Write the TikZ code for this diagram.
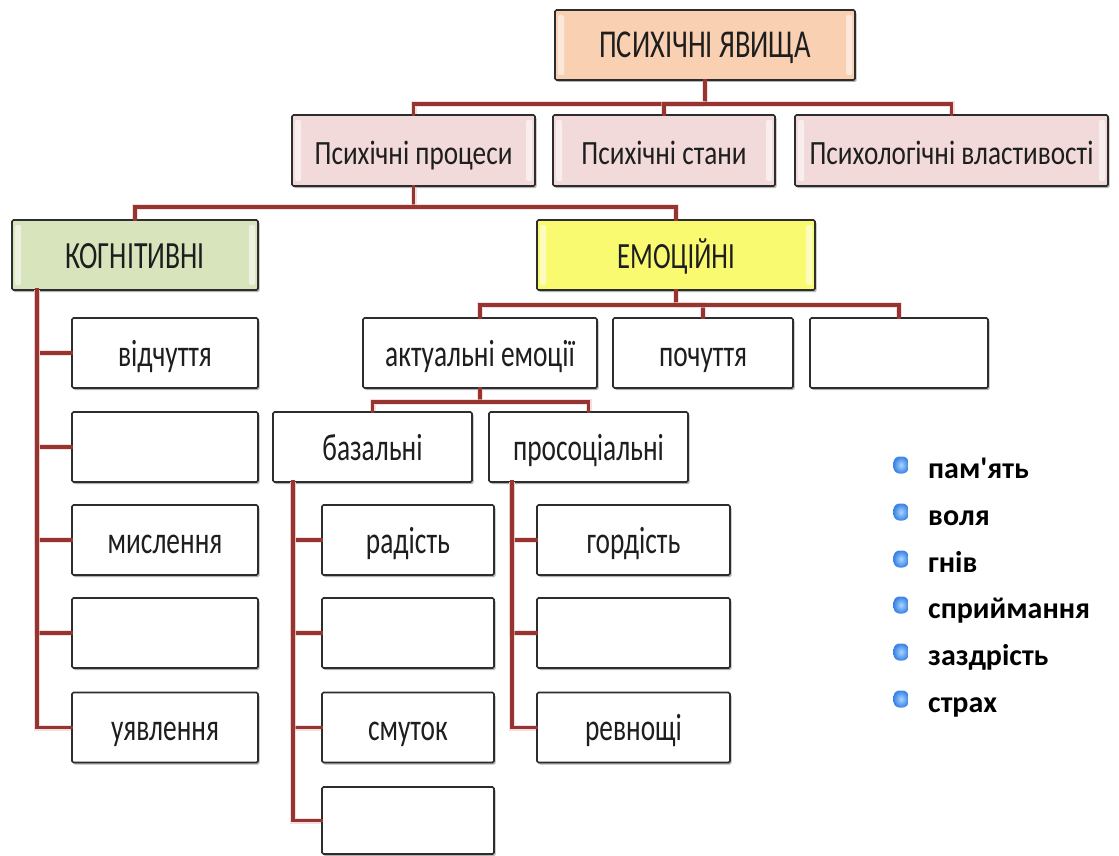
\documentclass[tikz,border=0pt]{standalone}
\usepackage{fontspec}
\setmainfont{Carlito}[FakeStretch=0.72]
\newfontfamily\rowfont{Carlito}[FakeStretch=0.8]
\newfontfamily\legendfont{Carlito}[FakeStretch=1.0]
\usetikzlibrary{shadows,calc}

\definecolor{linkred}{RGB}{150,52,50}
\definecolor{linkglow}{RGB}{236,200,200}
\definecolor{boxline}{RGB}{45,45,45}
\definecolor{txt}{RGB}{30,30,30}
\definecolor{peach}{RGB}{250,208,178}
\definecolor{rose}{RGB}{242,218,218}
\definecolor{sage}{RGB}{216,228,188}
\definecolor{lemon}{RGB}{250,250,112}
\definecolor{dotin}{RGB}{165,215,255}
\definecolor{dotout}{RGB}{60,130,230}

\tikzset{
  box/.style={draw=boxline, line width=1.6pt, fill=white, rounded corners=1.5pt,
    text=txt, inner sep=0pt, font=\fontsize{38}{40}\selectfont,
    text height=32pt, text depth=6pt,
    drop shadow={shadow xshift=1.5pt, shadow yshift=-2pt, opacity=0.3, fill=black}},
  glowbox/.style={box, fill=#1,
    path picture={
      \fill[white, opacity=0.55]
        ($(path picture bounding box.north west)+(3,5)$) rectangle
        ($(path picture bounding box.south west)+(9,-5)$);
      \fill[white, opacity=0.55]
        ($(path picture bounding box.north east)+(-3,5)$) rectangle
        ($(path picture bounding box.south east)+(-9,-5)$);
    }},
  rowtext/.style={font=\rowfont\fontsize{34}{36}\selectfont, text height=34pt},
  conn/.style={draw=linkred, line width=3.6pt, line cap=rect,
    preaction={draw=linkglow, line width=6pt, opacity=0.6}},
  legitem/.style={anchor=base west, inner sep=0pt, text=black,
    font=\legendfont\bfseries\fontsize{30}{32}\selectfont},
  dot/.style={rectangle, rounded corners=6pt, minimum width=15pt, minimum height=17pt,
    inner sep=0pt, inner color=dotin, outer color=dotout}
}

\begin{document}
\begin{tikzpicture}[x=1pt, y=-1pt]
\useasboundingbox (0,0) rectangle (1119,856);

% top level
\node[glowbox=peach, minimum width=300pt, minimum height=70pt,
  font=\fontsize{39.5}{41}\selectfont] (top) at (705,45) {ПСИХІЧНІ ЯВИЩА};

% second level
\node[glowbox=rose, rowtext, minimum width=243pt, minimum height=71pt] (pp) at (413.5,150.5) {Психічні процеси};
\node[glowbox=rose, rowtext, minimum width=222pt, minimum height=71pt] (ps) at (664,150.5) {Психічні стани};
\node[glowbox=rose, rowtext, minimum width=313pt, minimum height=71pt] (pv) at (951.5,150.5) {Психологічні властивості};

% third level
\node[glowbox=sage, minimum width=246pt, minimum height=70pt,
  font=\fontsize{38.5}{40}\selectfont] (kog) at (135,255) {КОГНІТИВНІ};
\node[glowbox=lemon, minimum width=278pt, minimum height=70pt,
  font=\fontsize{37}{39}\selectfont] (emo) at (676,255) {ЕМОЦІЙНІ};

% cognitive processes
\node[box, minimum width=186pt, minimum height=70pt] (c1) at (165,353) {відчуття};
\node[box, minimum width=186pt, minimum height=70pt] (c2) at (165,447) {};
\node[box, minimum width=186pt, minimum height=70pt] (c3) at (165,540) {мислення};
\node[box, minimum width=186pt, minimum height=70pt] (c4) at (165,633) {};
\node[box, minimum width=186pt, minimum height=70pt] (c5) at (165,727.5) {уявлення};

% emotional processes
\node[box, minimum width=234pt, minimum height=70pt] (akt) at (480,353) {актуальні емоції};
\node[box, minimum width=180pt, minimum height=70pt] (poch) at (703,353) {почуття};
\node[box, minimum width=178pt, minimum height=70pt] (e3) at (899,353) {};

\node[box, minimum width=199pt, minimum height=70pt] (baz) at (372.5,447) {базальні};
\node[box, minimum width=199pt, minimum height=70pt] (pros) at (588.5,447) {просоціальні};

\node[box, minimum width=172pt, minimum height=70pt] (b1) at (408,540) {радість};
\node[box, minimum width=172pt, minimum height=70pt] (b2) at (408,633) {};
\node[box, minimum width=172pt, minimum height=70pt] (b3) at (408,727.5) {смуток};
\node[box, minimum width=172pt, minimum height=67pt] (b4) at (408,820.5) {};

\node[box, minimum width=193pt, minimum height=70pt] (p1) at (633.5,540) {гордість};
\node[box, minimum width=193pt, minimum height=70pt] (p2) at (633.5,633) {};
\node[box, minimum width=193pt, minimum height=70pt] (p3) at (633.5,727.5) {ревнощі};

% junction points of the connectors
\coordinate (j1) at (705,104);
\coordinate (j2) at (413.5,207);
\coordinate (j3) at (676,305);
\coordinate (j4) at (480,402);
\coordinate (kt) at (37,290);
\coordinate (bt) at (293,482);
\coordinate (pt) at (512,482);

\draw[conn] (top.south) -- (j1);
\draw[conn] (pp.north) |- (j1);
\draw[conn] (ps.north) |- (j1);
\draw[conn] (pv.north) |- (j1);

\draw[conn] (pp.south) -- (j2);
\draw[conn] (kog.north) |- (j2);
\draw[conn] (emo.north) |- (j2);

\foreach \n in {c1,c2,c3,c4,c5} \draw[conn] (kt) |- (\n.west);

\draw[conn] (emo.south) -- (j3);
\draw[conn] (akt.north) |- (j3);
\draw[conn] (poch.north) |- (j3);
\draw[conn] (e3.north) |- (j3);

\draw[conn] (akt.south) -- (j4);
\draw[conn] (baz.north) |- (j4);
\draw[conn] (pros.north) |- (j4);

\foreach \n in {b1,b2,b3,b4} \draw[conn] (bt) |- (\n.west);
\foreach \n in {p1,p2,p3} \draw[conn] (pt) |- (\n.west);

% word list
\node[dot] (d1) at (901,465) {};
\node[dot] (d2) at (901,512) {};
\node[dot] (d3) at (901,559) {};
\node[dot] (d4) at (901,605) {};
\node[dot] (d5) at (901,652) {};
\node[dot] (d6) at (901,699) {};
\node[legitem] (w1) at (928,478) {пам\char39ять};
\node[legitem] (w2) at (928,525) {воля};
\node[legitem] (w3) at (928,572) {гнів};
\node[legitem] (w4) at (928,618) {сприймання};
\node[legitem] (w5) at (928,665) {заздрість};
\node[legitem] (w6) at (928,712) {страх};
\end{tikzpicture}
\end{document}
